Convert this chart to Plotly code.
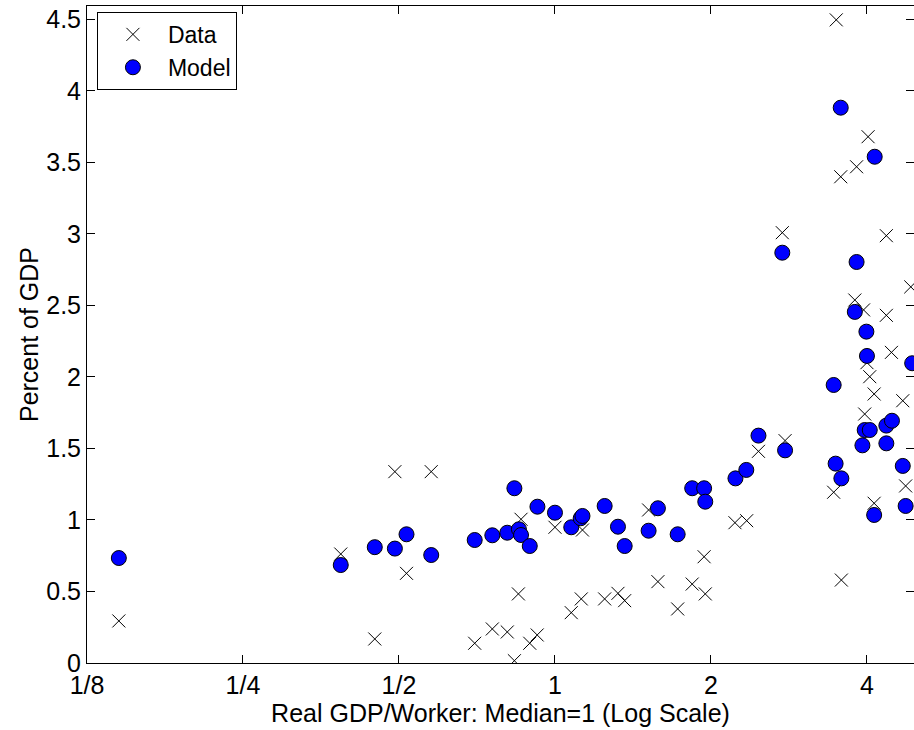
import plotly.graph_objects as go
import math

# Data (observed) series
data_x = [0.144, 0.386, 0.449, 0.491, 0.577, 0.517, 0.70, 0.757, 0.809, 0.835,
          0.85, 0.86, 0.894, 0.924, 1.0, 1.075, 1.13, 1.124, 1.247, 1.323,
          1.363, 1.516, 1.58, 1.725, 1.84, 1.94, 1.95, 2.225, 2.344, 2.47,
          2.78, 2.746, 3.45, 3.57, 3.49, 3.56, 3.82, 3.79, 3.94, 4.36,
          4.46, 4.0, 4.05, 4.13, 4.69, 3.96, 4.13, 4.75, 4.02, 4.36, 4.86]
data_y = [0.294, 0.762, 0.168, 1.338, 1.338, 0.627, 0.138, 0.238, 0.217, 0.016,
          0.483, 1.005, 0.138, 0.196, 0.949, 0.352, 0.93, 0.448, 0.448, 0.487,
          0.436, 1.07, 0.569, 0.378, 0.552, 0.743, 0.483, 0.981, 0.995, 1.48,
          1.555, 3.009, 1.194, 0.58, 4.497, 3.40, 3.47, 2.538, 2.469, 2.431,
          2.172, 2.10, 2.002, 1.881, 1.834, 1.741, 1.117, 1.238, 3.68, 2.988, 2.63]

# Model series
model_x = [0.144, 0.386, 0.449, 0.491, 0.517, 0.577, 0.70, 0.757, 0.809, 0.835,
           0.852, 0.86, 0.894, 0.925, 1.0, 1.075, 1.121, 1.13, 1.247, 1.323,
           1.363, 1.516, 1.58, 1.725, 1.84, 1.94, 1.95, 2.23, 2.34, 2.47,
           2.78, 2.746, 3.45, 3.48, 3.57, 3.56, 3.82, 3.79, 3.99, 4.0,
           3.92, 3.96, 4.05, 4.36, 4.47, 4.36, 4.69, 4.13, 4.75, 4.14, 4.89]
model_y = [0.734, 0.685, 0.81, 0.80, 0.90, 0.755, 0.86, 0.893, 0.911, 1.222,
           0.935, 0.895, 0.818, 1.093, 1.051, 0.949, 1.012, 1.028, 1.098, 0.953,
           0.818, 0.925, 1.082, 0.90, 1.222, 1.222, 1.128, 1.291, 1.35, 1.59,
           1.487, 2.869, 1.944, 1.394, 1.291, 3.883, 2.804, 2.455, 2.317, 2.147,
           1.522, 1.629, 1.629, 1.66, 1.694, 1.536, 1.378, 1.035, 1.098, 3.54, 2.096]

x_tickvals = [0.125, 0.25, 0.5, 1, 2, 4]
x_ticktext = ["1/8", "1/4", "1/2", "1", "2", "4"]
y_tickvals = [0, 0.5, 1, 1.5, 2, 2.5, 3, 3.5, 4, 4.5]
y_ticktext = ["0", "0.5", "1", "1.5", "2", "2.5", "3", "3.5", "4", "4.5"]

FONT = "Arial, Liberation Sans, Helvetica, sans-serif"
FS = 25

fig = go.Figure()
fig.add_trace(go.Scatter(
    x=data_x, y=data_y, mode="markers", name="Data",
    marker=dict(symbol="x-thin", size=13, color="black",
                line=dict(color="black", width=1)),
))
fig.add_trace(go.Scatter(
    x=model_x, y=model_y, mode="markers", name="Model",
    marker=dict(symbol="circle", size=15, color="#0000ff",
                line=dict(color="black", width=1)),
))

fig.update_layout(
    width=914, height=730,
    margin=dict(l=87, r=0, t=6, b=67),
    paper_bgcolor="white", plot_bgcolor="white",
    font=dict(family=FONT, size=FS, color="black"),
    showlegend=True,
    legend=dict(x=0.012, y=0.991, xanchor="left", yanchor="top",
                bgcolor="white", bordercolor="black", borderwidth=1,
                itemwidth=60, tracegroupgap=0,
                entrywidth=90, entrywidthmode="pixels",
                font=dict(family=FONT, size=23, color="black")),
)
fig.update_xaxes(
    type="log", automargin=False,
    range=[math.log10(0.125), math.log10(4.93)],
    tickvals=x_tickvals, ticktext=x_ticktext,
    ticks="inside", ticklen=8, tickcolor="black", tickwidth=1,
    showline=True, linecolor="black", linewidth=1, mirror="ticks",
    showgrid=False, zeroline=False,
    title=dict(text="Real GDP/Worker: Median=1 (Log Scale)", standoff=0,
               font=dict(family=FONT, size=FS)),
)
fig.update_yaxes(
    automargin=False,
    range=[0, 4.594],
    tickvals=y_tickvals, ticktext=y_ticktext,
    ticks="inside", ticklen=8, tickcolor="black", tickwidth=1,
    showline=True, linecolor="black", linewidth=1, mirror="ticks",
    showgrid=False, zeroline=False,
    title=dict(text="Percent of GDP", standoff=0,
               font=dict(family=FONT, size=FS)),
)

fig.write_html(
    "out.html",
    config={"displayModeBar": False},
    post_script="document.body.style.margin='0';document.body.style.overflow='hidden';",
)
